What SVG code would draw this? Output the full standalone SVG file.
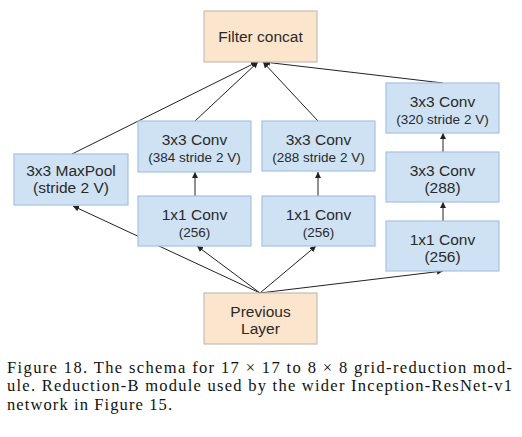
<svg xmlns="http://www.w3.org/2000/svg" width="522" height="437" viewBox="0 0 522 437">
<style>
.b{fill:#cfe2f3;stroke:#a7c2e2;stroke-width:1.2}
.o{fill:#fce5cd;stroke:#c4bdb6;stroke-width:1.2}
.t{font-family:"Liberation Sans",Arial,sans-serif;fill:#2a2a2a;text-anchor:middle;font-size:15.5px}
.s{font-size:13.5px}
.c{stroke:#222;stroke-width:1;fill:none;marker-end:url(#ah)}
.cap{font-family:"Liberation Serif","Times New Roman",serif;font-size:16.5px;fill:#111}
</style>
<defs>
<marker id="ah" markerUnits="userSpaceOnUse" markerWidth="6" markerHeight="6" refX="6" refY="3" orient="auto">
<path d="M0,0 L6,3 L0,6 z" fill="#222"/>
</marker>
</defs>
<rect width="522" height="437" fill="#fff"/>
<g id="connectors">
<line class="c" x1="72" y1="154" x2="257" y2="62"/>
<line class="c" x1="195" y1="121" x2="258" y2="62"/>
<line class="c" x1="318" y1="121" x2="263" y2="62"/>
<line class="c" x1="443" y1="83" x2="264" y2="62"/>
<line class="c" x1="195" y1="196" x2="195" y2="172"/>
<line class="c" x1="318" y1="196" x2="318" y2="172"/>
<line class="c" x1="443" y1="221" x2="443" y2="202"/>
<line class="c" x1="443" y1="152" x2="443" y2="133"/>
<line class="c" x1="260" y1="293" x2="73" y2="206"/>
<line class="c" x1="260" y1="293" x2="197" y2="246"/>
<line class="c" x1="260" y1="293" x2="316" y2="246"/>
<line class="c" x1="260" y1="293" x2="443" y2="271"/>
</g>
<g id="filter-concat">
<rect class="o" x="204" y="11" width="113" height="51"/>
<text class="t" x="260.5" y="42">Filter concat</text>
</g>
<g id="maxpool">
<rect class="b" x="14" y="154" width="114" height="51"/>
<text class="t" x="71" y="176">3x3 MaxPool</text>
<text class="t" x="71" y="193">(stride 2 V)</text>
</g>
<g id="conv384">
<rect class="b" x="138" y="121" width="113" height="51"/>
<text class="t" x="194.5" y="145">3x3 Conv</text>
<text class="t s" x="194.5" y="162">(384 stride 2 V)</text>
</g>
<g id="conv288s">
<rect class="b" x="262" y="121" width="113" height="50"/>
<text class="t" x="318.5" y="145">3x3 Conv</text>
<text class="t s" x="318.5" y="162">(288 stride 2 V)</text>
</g>
<g id="conv320">
<rect class="b" x="386" y="83" width="113" height="50"/>
<text class="t" x="442.5" y="107">3x3 Conv</text>
<text class="t s" x="442.5" y="124">(320 stride 2 V)</text>
</g>
<g id="conv288">
<rect class="b" x="386" y="152" width="113" height="50"/>
<text class="t" x="442.5" y="176">3x3 Conv</text>
<text class="t" x="442.5" y="193">(288)</text>
</g>
<g id="conv1x1-a">
<rect class="b" x="138" y="196" width="113" height="50"/>
<text class="t" x="194.5" y="220">1x1 Conv</text>
<text class="t s" x="194.5" y="237">(256)</text>
</g>
<g id="conv1x1-b">
<rect class="b" x="262" y="196" width="113" height="50"/>
<text class="t" x="318.5" y="220">1x1 Conv</text>
<text class="t s" x="318.5" y="237">(256)</text>
</g>
<g id="conv1x1-c">
<rect class="b" x="386" y="221" width="113" height="50"/>
<text class="t" x="442.5" y="245">1x1 Conv</text>
<text class="t" x="442.5" y="262">(256)</text>
</g>
<g id="previous-layer">
<rect class="o" x="204" y="293" width="113" height="51"/>
<text class="t" x="260.5" y="317">Previous</text>
<text class="t" x="260.5" y="334">Layer</text>
</g>
<g id="caption">
<text class="cap" x="7" y="372.5" textLength="505" lengthAdjust="spacing">Figure 18. The schema for 17 × 17 to 8 × 8 grid-reduction mod-</text>
<text class="cap" x="7" y="391" textLength="505" lengthAdjust="spacing">ule. Reduction-B module used by the wider Inception-ResNet-v1</text>
<text class="cap" x="7" y="409.5" textLength="165" lengthAdjust="spacing">network in Figure 15.</text>
</g>
</svg>
